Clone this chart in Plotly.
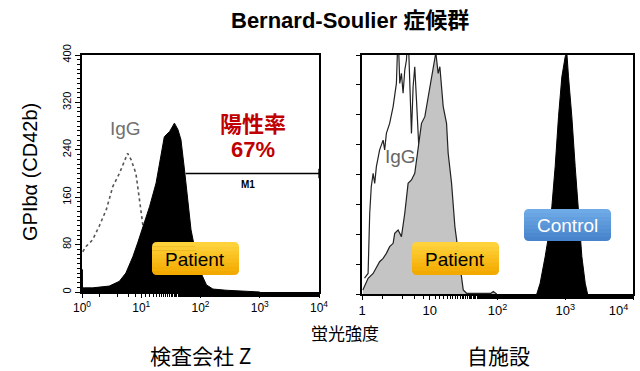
import plotly.graph_objects as go

W, H = 640, 371

# ---------- data: left panel (検査会社 Z) ----------
left_igg_x = [1.03, 1.17, 1.51, 1.95, 2.57, 3.31, 4.27, 5.25, 5.89, 6.76, 8.13, 9.33, 10.7, 13.5, 17.8]
left_igg_y = [68, 77, 88, 111, 139, 178, 200, 223, 234, 223, 200, 156, 111, 50, 0]

left_pat_x = [1.0, 1.01, 1.02, 1.10, 1.51, 2.88, 4.27, 5.50, 7.24, 8.71, 10.7, 13.8, 17.8, 20.4, 24.5,
              30.2, 36.3, 41.7, 46.8, 53.7, 61.7, 69.2, 85.1, 102, 126, 162, 269, 525, 1000]
left_pat_y = [0, 38, 7, 7, 7, 10, 18, 32, 60, 83, 111, 144, 184, 217, 262,
              271, 285, 274, 257, 206, 156, 105, 60, 32, 12, 5, 3, 1, 0]

m1_x = [56, 10000]
m1_y = [200, 200]

left_yticks = [0, 80, 160, 240, 320, 400]
log_ticks = [1, 10, 100, 1000, 10000]
left_xtick_text = ["10<sup>0</sup>", "10<sup>1</sup>", "10<sup>2</sup>", "10<sup>3</sup>", "10<sup>4</sup>"]
right_xtick_text = ["1", "10", "10<sup>2</sup>", "10<sup>3</sup>",
                    "10<sup>4</sup>" + "\u00a0" * 8]

# ---------- data: right panel (自施設) ----------
right_igg_x = [1.09, 1.23, 1.30, 1.37, 1.46, 1.54, 1.63, 1.82, 2.05, 2.16, 2.29, 2.56, 2.88, 3.22, 3.41,
               3.61, 3.82, 4.04, 4.28, 4.53, 4.79, 5.08, 5.37, 5.68, 6.01, 6.37, 6.74, 7.13, 7.55, 8.0,
               8.95, 10.0, 11.2, 12.6]
right_igg_y = [6.6, 8.6, 33.8, 44.9, 50.5, 46.3, 53.3, 60.3, 64.4, 60.3, 67.2, 71.4, 78.4, 88.1, 110,
               88.1, 92.3, 84.0, 93.7, 97.9, 110, 88.1, 67.2, 86.7, 95.1, 81.2, 64.4, 53.3, 47.7, 39.3,
               28, 15.6, 3, 0]

right_pat_x = [1.03, 1.23, 1.46, 1.63, 1.82, 2.05, 2.29, 2.56, 2.88, 3.04, 3.41, 3.82, 4.28, 4.79, 5.37,
               6.01, 6.74, 7.55, 8.46, 9.48, 10.6, 11.5, 12.3, 13.3, 14.1, 15.8, 17.7, 18.7, 21.0, 23.5,
               26.3, 29.5, 31.2, 35.0, 80.0, 86.7, 92.0, 97.2]
right_pat_y = [1.7, 6.6, 8.6, 11.4, 13.5, 14.9, 17.0, 19.8, 21.2, 25.4, 26.8, 24.0, 33.8, 46.3, 47.7,
               50.5, 60.3, 71.4, 74.2, 82.6, 90.9, 95.1, 101, 92.3, 95.1, 78.4, 71.4, 58.9, 46.3, 28.2,
               17.0, 5.9, 1.7, 0.3, 0.3, 1.0, 0.5, 0]

ctrl_x = [380, 426, 505, 565, 634, 710, 795, 891, 998, 1055, 1117, 1251, 1402, 1570, 1759, 1971, 2135]
ctrl_y = [0, 4.5, 15.6, 24.0, 36.5, 53.3, 74.2, 90.9, 99.3, 101, 90.9, 74.2, 53.3, 33.8, 15.6, 4.5, 0]

right_yticks = [0, 12.5, 25, 37.5, 50, 62.5, 75, 87.5, 100]

FONT = "Liberation Sans, Arial, Noto Sans CJK JP, sans-serif"
CJK = "Noto Sans CJK JP, Liberation Sans, sans-serif"


def px(x):
    return x / W


def py(y):
    return 1 - y / H


fig = go.Figure()

# left panel traces
fig.add_trace(go.Scatter(x=left_igg_x, y=left_igg_y, mode="lines",
                         line=dict(color="#555555", width=1.6, dash="dot"),
                         xaxis="x", yaxis="y", showlegend=False))
fig.add_trace(go.Scatter(x=left_pat_x, y=left_pat_y, mode="lines", fill="tozeroy",
                         fillcolor="black", line=dict(color="black", width=1),
                         xaxis="x", yaxis="y", showlegend=False))
fig.add_trace(go.Scatter(x=m1_x, y=m1_y, mode="lines", line=dict(color="black", width=1.3),
                         xaxis="x", yaxis="y", showlegend=False))

# right panel traces
fig.add_trace(go.Scatter(x=right_igg_x, y=right_igg_y, mode="lines",
                         line=dict(color="#222222", width=1.2),
                         xaxis="x2", yaxis="y2", showlegend=False))
fig.add_trace(go.Scatter(x=right_pat_x, y=right_pat_y, mode="lines", fill="tozeroy",
                         fillcolor="#c4c4c4", line=dict(color="#222222", width=1.2),
                         xaxis="x2", yaxis="y2", showlegend=False))
fig.add_trace(go.Scatter(x=ctrl_x, y=ctrl_y, mode="lines", fill="tozeroy",
                         fillcolor="black", line=dict(color="black", width=1),
                         xaxis="x2", yaxis="y2", showlegend=False))

axis_common = dict(showgrid=False, zeroline=False, showline=True, linecolor="black",
                   linewidth=1.5, mirror=True, ticks="outside", tickcolor="black",
                   automargin=False)

fig.update_layout(
    width=W, height=H, margin=dict(l=0, r=0, t=0, b=0, pad=0), autosize=False,
    paper_bgcolor="white", plot_bgcolor="white",
    font=dict(family=FONT, color="black"),
    xaxis=dict(axis_common, domain=[px(82), px(319)], type="log", range=[0, 4],
               tickvals=log_ticks, ticktext=left_xtick_text, ticklen=4, tickwidth=1.2,
               tickfont=dict(size=12, family=FONT),
               minor=dict(ticks="outside", ticklen=3, tickcolor="black", showgrid=False),
               anchor="y"),
    yaxis=dict(axis_common, domain=[py(292), py(55)], range=[0, 400],
               tickvals=left_yticks, tickangle=-90, ticklen=5, tickwidth=1.2,
               tickfont=dict(size=11, family=FONT),
               minor=dict(ticks="outside", ticklen=3, dtick=8, tickcolor="black", showgrid=False),
               anchor="x"),
    xaxis2=dict(axis_common, domain=[px(362), px(633)], type="log", range=[0, 4],
                tickvals=log_ticks, ticktext=right_xtick_text, ticklen=4, tickwidth=1.2,
                tickfont=dict(size=13, family=FONT), ticklabeloverflow="allow",
                minor=dict(ticks="outside", ticklen=3, tickcolor="black", showgrid=False),
                anchor="y2"),
    yaxis2=dict(axis_common, domain=[py(294), py(55)], range=[0, 100],
                tickvals=right_yticks, showticklabels=False, ticklen=4, tickwidth=1.2,
                anchor="x2"),
)


def band_path(x0, y0, x1, y1, r_top, r_bot):
    p = f"M {px(x0 + r_top)},{py(y0)} L {px(x1 - r_top)},{py(y0)} "
    if r_top:
        p += f"Q {px(x1)},{py(y0)} {px(x1)},{py(y0 + r_top)} "
    p += f"L {px(x1)},{py(y1 - r_bot)} "
    if r_bot:
        p += f"Q {px(x1)},{py(y1)} {px(x1 - r_bot)},{py(y1)} "
    p += f"L {px(x0 + r_bot)},{py(y1)} "
    if r_bot:
        p += f"Q {px(x0)},{py(y1)} {px(x0)},{py(y1 - r_bot)} "
    p += f"L {px(x0)},{py(y0 + r_top)} "
    if r_top:
        p += f"Q {px(x0)},{py(y0)} {px(x0 + r_top)},{py(y0)} "
    return p + "Z"


def hexmix(c0, c1, t):
    a = [int(c0[i:i + 2], 16) for i in (1, 3, 5)]
    b = [int(c1[i:i + 2], 16) for i in (1, 3, 5)]
    return "#" + "".join(f"{round(a[k] + (b[k] - a[k]) * t):02x}" for k in range(3))


def gradient_box(x0, y0, x1, y1, r, top, bottom, n=8):
    out = []
    h = (y1 - y0) / n
    for i in range(n):
        ya, yb = y0 + i * h, y0 + (i + 1) * h + (0.6 if i < n - 1 else 0)
        rt = r if i == 0 else 0
        rb = r if i == n - 1 else 0
        col = hexmix(top, bottom, i / (n - 1))
        out.append(dict(type="path", xref="paper", yref="paper",
                        path=band_path(x0, ya, x1, yb, rt, rb),
                        fillcolor=col, line=dict(width=0), layer="above"))
    return out


shapes = []
shapes += gradient_box(152, 242, 239, 275, 5, "#ffd23a", "#f2aa00")
shapes += gradient_box(412, 242, 499, 275, 5, "#ffd23a", "#f2aa00")
shapes += gradient_box(524, 209, 611, 241, 5, "#6eaae6", "#4884cb")
shapes.append(dict(type="line", xref="x", yref="y", x0=10000, x1=10000, y0=192, y1=208,
                   line=dict(color="black", width=1.3)))
fig.update_layout(shapes=shapes)

ann = []


def add_text(x, y, text, size, color="black", family=FONT, bold=False, angle=0):
    t = f"<b>{text}</b>" if bold else text
    ann.append(dict(x=px(x), y=py(y), xref="paper", yref="paper", text=t, showarrow=False,
                    font=dict(size=size, color=color, family=family), textangle=angle,
                    xanchor="center", yanchor="middle", borderpad=0))


add_text(350, 20, "Bernard-Soulier 症候群", 22, bold=True)
add_text(30, 172, "GPIbα (CD42b)", 20, angle=-90)
add_text(125, 128, "IgG", 19, color="#707070")
add_text(253, 122, "陽性率", 22, color="#c00000", family=CJK, bold=True)
add_text(253, 150, "67%", 22, color="#c00000", bold=True)
add_text(248, 184, "M1", 10, bold=True)
add_text(195, 259, "Patient", 19)
add_text(400, 157, "IgG", 19, color="#666666")
add_text(455, 259, "Patient", 19)
add_text(567, 226, "Control", 19, color="white")
add_text(345, 332, "蛍光強度", 17, family=CJK)
add_text(200, 355, "検査会社 Z", 21, family=CJK)
add_text(498, 355, "自施設", 21, family=CJK)

fig.update_layout(annotations=ann)

fig.write_html("out.html", config={"displayModeBar": False},
               post_script="document.body.style.margin='0';document.body.style.overflow='hidden';")
